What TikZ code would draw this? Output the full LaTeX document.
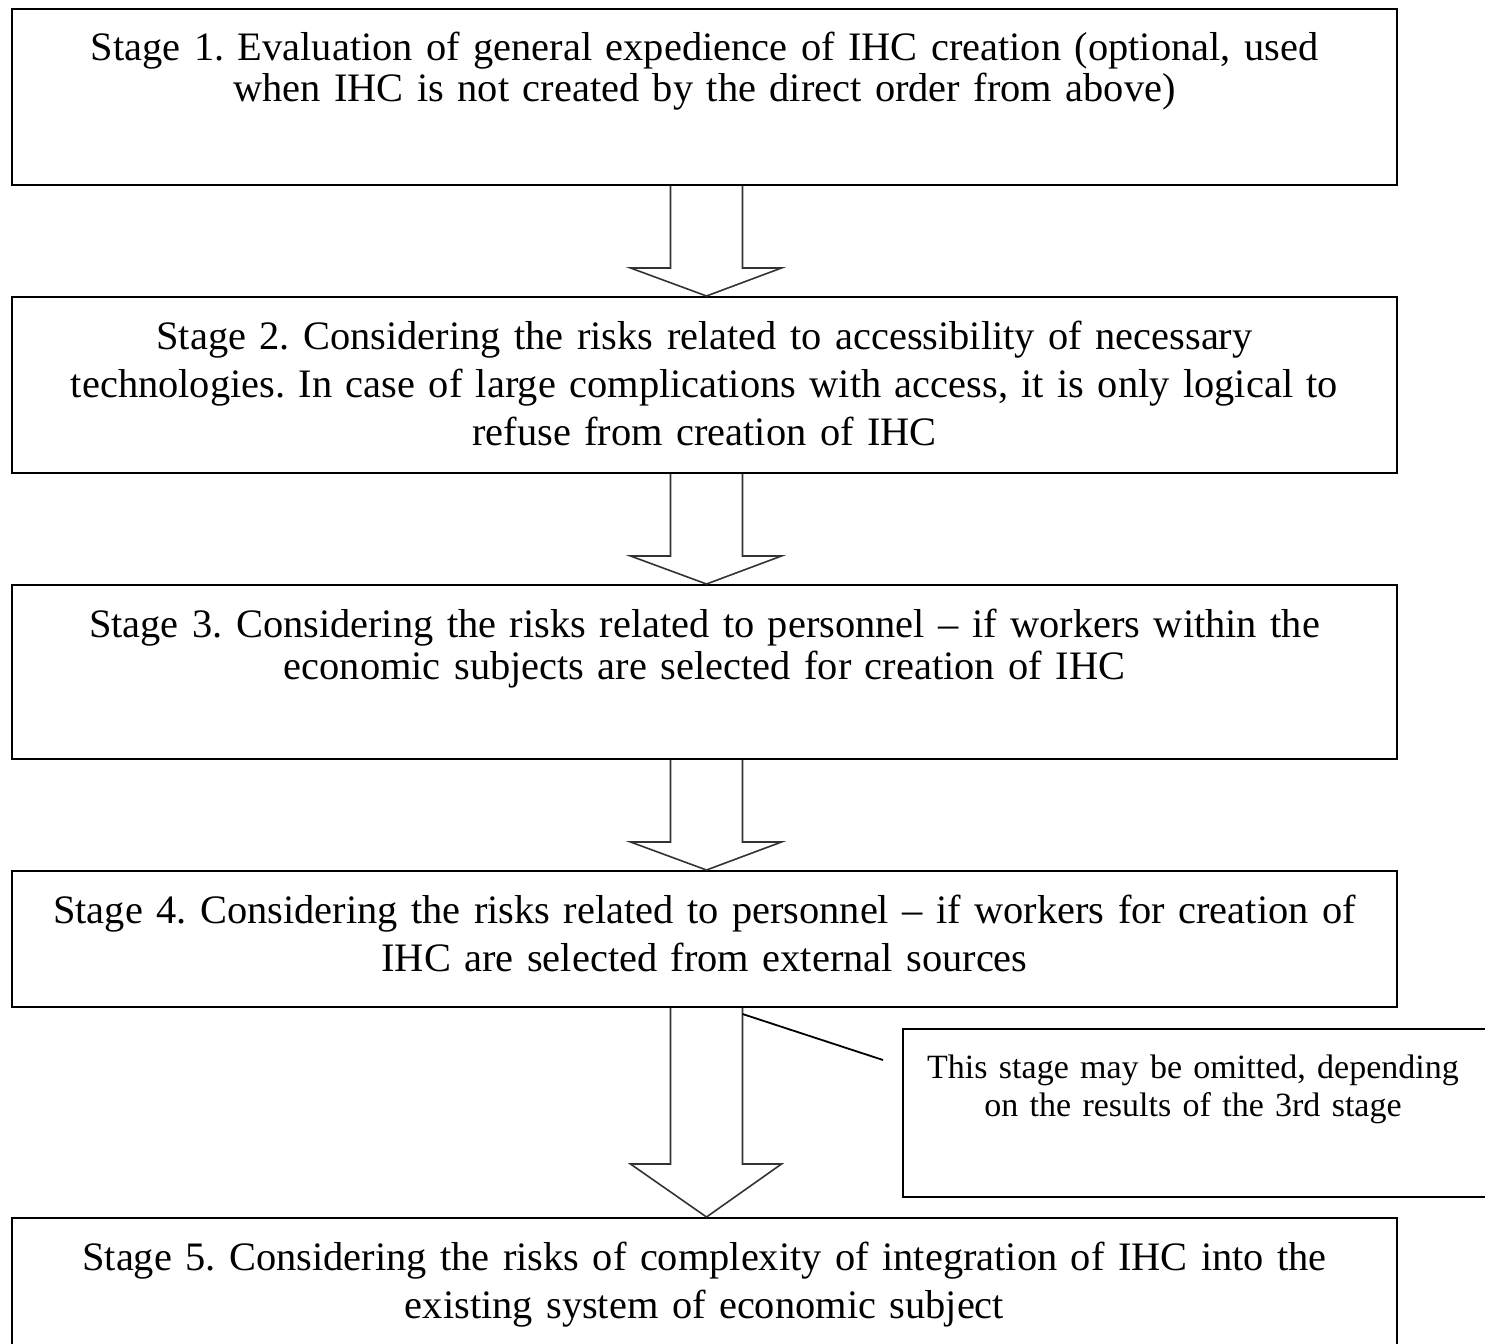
\documentclass[tikz,border=0pt]{standalone}
\usepackage{fontspec}
\setmainfont{Liberation Serif}
\usetikzlibrary{calc,positioning}
\frenchspacing

\begin{document}
\begin{tikzpicture}[x=0.5pt,y=-0.5pt]
\tikzset{
  stagebox/.style={draw=black,line width=1pt,anchor=north,minimum width=692.5pt,inner sep=0pt},
  stagetext/.style={anchor=base,text width=685pt,align=center,inner sep=0pt,font=\fontsize{20.2}{#1}\selectfont},
  notebox/.style={draw=black,line width=1pt,anchor=north west,minimum width=309pt,minimum height=84pt,inner sep=0pt},
  notetext/.style={anchor=base,text width=290pt,align=center,inner sep=0pt,font=\fontsize{17}{19pt}\selectfont},
  blockarrow/.style={draw=black!80,line width=0.8pt,line join=miter}
}
\useasboundingbox (0,0) rectangle (1485,1344);
\clip (0,0) rectangle (1485,1344);
% stage boxes
\node[stagebox,minimum height=88pt] (s1) at (704.5,8) {};
\node[stagebox,minimum height=88pt] (s2) at (704.5,296) {};
\node[stagebox,minimum height=87pt] (s3) at (704.5,584) {};
\node[stagebox,minimum height=68pt] (s4) at (704.5,870) {};
\node[stagebox,minimum height=80pt] (s5) at (704.5,1217) {};
\node[notebox] (note) at (902,1028) {};
% texts
\node[stagetext=20.5pt] (s1text) at ($(s1.north)+(0,52)$) {Stage 1. Evaluation of general expedience of IHC creation (optional, used\\when IHC is not created by the direct order from above)};
\node[stagetext=24pt] (s2text) at ($(s2.north)+(0,53)$) {Stage 2. Considering the risks related to accessibility of necessary\\technologies. In case of large complications with access, it is only logical to\\refuse from creation of IHC};
\node[stagetext=21pt] (s3text) at ($(s3.north)+(0,53)$) {Stage 3. Considering the risks related to personnel -- if workers within the\\economic subjects are selected for creation of IHC};
\node[stagetext=24pt] (s4text) at ($(s4.north)+(0,53)$) {Stage 4. Considering the risks related to personnel -- if workers for creation of\\IHC are selected from external sources};
\node[stagetext=24pt] (s5text) at ($(s5.north)+(0,53)$) {Stage 5. Considering the risks of complexity of integration of IHC into the\\existing system of economic subject};
\node[notetext] (notetext) at ($(note.north west)+(291,50)$) {This stage may be omitted, depending\\on the results of the 3rd stage};
% block arrows
\foreach \from/\to/\head in {s1/s2/28,s2/s3/28,s3/s4/28,s4/s5/53}{
  \draw[blockarrow] ($(\from.south)+(-34,0)$) -- ($(\to.north)+(-34,-\head)$)
    -- ($(\to.north)+(-74,-\head)$) -- ($(\to.north)+(2,0)$)
    -- ($(\to.north)+(77,-\head)$) -- ($(\to.north)+(38,-\head)$)
    -- ($(\from.south)+(38,0)$);
}
% pointer to the note
\coordinate (pointer) at (883,1060);
\draw[black,line width=0.9pt] ($(s4.south)+(38,6)$) -- (pointer);
\end{tikzpicture}
\end{document}
